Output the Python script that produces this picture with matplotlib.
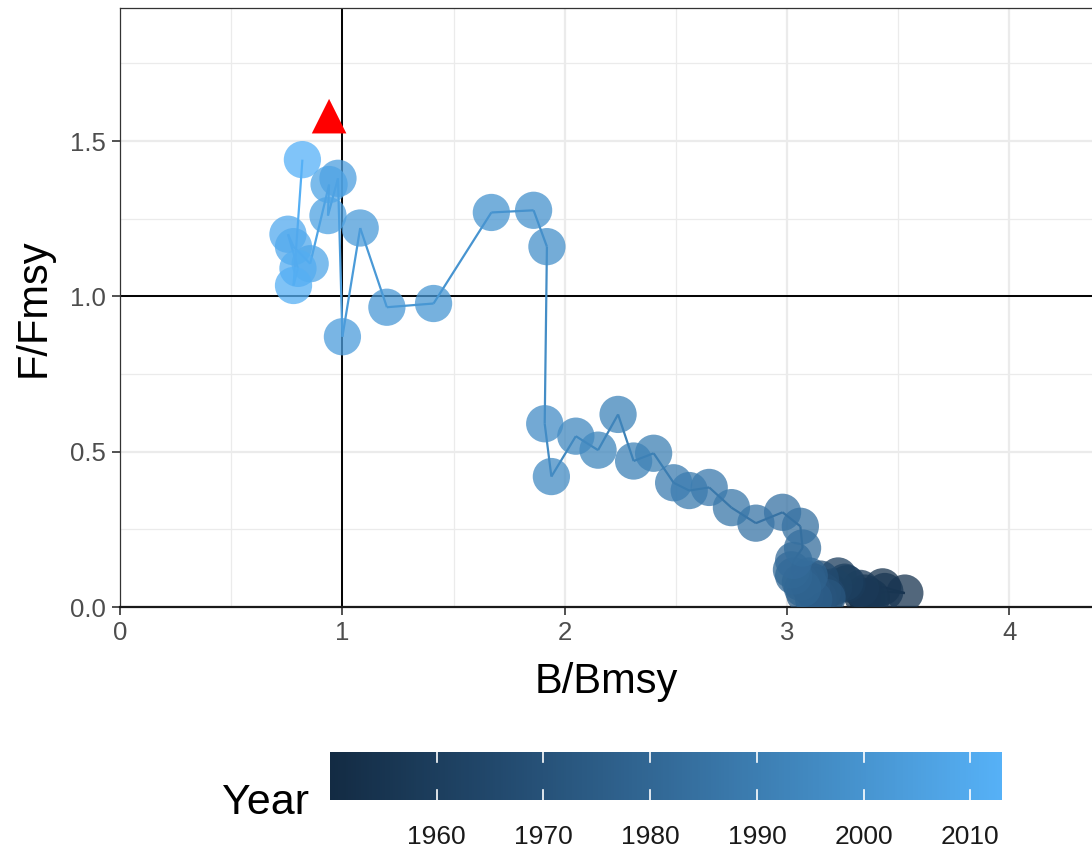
import matplotlib
matplotlib.use("Agg")
import matplotlib.pyplot as plt
import numpy as np
from matplotlib.collections import LineCollection
from matplotlib.colors import LinearSegmentedColormap, Normalize

# stock trajectory, one point per year
YEARS = [1950, 1951, 1952, 1953, 1954, 1955, 1956, 1957, 1958, 1959,
         1960, 1961, 1962, 1963, 1964, 1965, 1966, 1967, 1968, 1969,
         1970, 1971, 1972, 1973, 1974, 1975, 1976, 1977, 1978, 1979,
         1980, 1981, 1982, 1983, 1984, 1985, 1986, 1987, 1988, 1989,
         1990, 1991, 1992, 1993, 1994, 1995, 1996, 1997, 1998, 1999,
         2000, 2001, 2002, 2003, 2004, 2005, 2006, 2007, 2008, 2009,
         2010, 2011, 2012, 2013]
B_BMSY = [3.36, 3.34, 3.38, 3.35, 3.43, 3.53, 3.44, 3.37, 3.33, 3.27,
          3.23, 3.26, 3.21, 3.17, 3.14, 3.18, 3.12, 3.15, 3.16, 3.13,
          3.10, 3.14, 3.18, 3.11, 3.09, 3.08, 3.12, 3.06, 3.10, 3.07,
          3.03, 3.02, 3.03, 3.07, 3.06, 2.98, 2.86, 2.75, 2.65, 2.56,
          2.49, 2.40, 2.31, 2.24, 2.15, 2.05, 1.94, 1.91, 1.92, 1.86,
          1.67, 1.41, 1.20, 1.08, 1.00, 0.98, 0.935, 0.94, 0.855, 0.78,
          0.755, 0.80, 0.78, 0.82]
F_FMSY = [0.03, 0.035, 0.03, 0.045, 0.065, 0.045, 0.05, 0.035, 0.06, 0.075,
          0.10, 0.08, 0.065, 0.05, 0.07, 0.04, 0.08, 0.09, 0.05, 0.04,
          0.07, 0.03, 0.03, 0.06, 0.09, 0.04, 0.025, 0.08, 0.10, 0.06,
          0.10, 0.12, 0.15, 0.19, 0.26, 0.305, 0.27, 0.32, 0.385, 0.375,
          0.40, 0.495, 0.47, 0.62, 0.505, 0.55, 0.42, 0.59, 1.16, 1.277,
          1.27, 0.977, 0.965, 1.22, 0.87, 1.38, 1.26, 1.36, 1.105, 1.16,
          1.20, 1.09, 1.035, 1.44]

# latest status marker
CURRENT_B = [0.94]
CURRENT_F = [1.58]

TICK_YEARS = [1960, 1970, 1980, 1990, 2000, 2010]

GRID = "#EBEBEB"
AXIS_TEXT = "#4D4D4D"

plt.rcParams.update({
    "font.family": ["Liberation Sans", "DejaVu Sans"],
    "figure.facecolor": "white",
    "axes.facecolor": "white",
})

cmap = LinearSegmentedColormap.from_list(
    "gg_blues",
    [(0.0, "#132B43"), (0.25, "#22496D"), (0.5, "#336A98"),
     (0.75, "#448EC7"), (1.0, "#56B1F7")],
)
norm = Normalize(vmin=min(YEARS), vmax=max(YEARS))

fig = plt.figure(figsize=(10.92, 8.55), dpi=100)
ax = fig.add_axes([0.110, 0.290, 0.890, 0.7006])

ax.set_xlim(0, 4.372)
ax.set_ylim(0, 1.928)

# grid in ggplot theme_bw style
for v in [0.5, 1.5, 2.5, 3.5]:
    ax.axvline(v, color=GRID, lw=0.9, zorder=0)
for v in [1, 2, 3, 4]:
    ax.axvline(v, color=GRID, lw=1.6, zorder=0)
for v in [0.25, 0.75, 1.25, 1.75]:
    ax.axhline(v, color=GRID, lw=0.9, zorder=0)
for v in [0.5, 1.0, 1.5]:
    ax.axhline(v, color=GRID, lw=1.6, zorder=0)

# reference lines at MSY
ax.axvline(1, color="black", lw=1.4, zorder=1)
ax.axhline(1, color="black", lw=1.4, zorder=1)

# path coloured by year
pts = np.column_stack([B_BMSY, F_FMSY])
segs = np.stack([pts[:-1], pts[1:]], axis=1)
lc = LineCollection(segs, cmap=cmap, norm=norm, linewidths=1.6, zorder=2)
lc.set_array(np.array(YEARS[:-1], dtype=float))
ax.add_collection(lc)

sc = ax.scatter(B_BMSY, F_FMSY, c=YEARS, cmap=cmap, norm=norm, s=720,
                alpha=0.75, edgecolors="none", zorder=3)

ax.scatter(CURRENT_B, CURRENT_F, marker="^", s=620, color="#FF0000",
           edgecolors="none", zorder=4)

ax.set_xticks([0, 1, 2, 3, 4])
ax.set_xticklabels(["0", "1", "2", "3", "4"])
ax.set_yticks([0.0, 0.5, 1.0, 1.5])
ax.set_yticklabels(["0.0", "0.5", "1.0", "1.5"])
ax.tick_params(axis="both", length=6, width=1.2, color="#333333",
               labelsize=18.5, labelcolor=AXIS_TEXT, pad=4)

for side in ["top", "left"]:
    ax.spines[side].set_color("#333333")
    ax.spines[side].set_linewidth(0.9)
ax.spines["right"].set_visible(False)
ax.spines["bottom"].set_color("#1a1a1a")
ax.spines["bottom"].set_linewidth(1.6)

ax.set_xlabel("B/Bmsy", fontsize=30, labelpad=12)
ax.set_ylabel("F/Fmsy", fontsize=30, labelpad=12)

# colourbar legend at the bottom
cax = fig.add_axes([0.302, 0.0643, 0.616, 0.0562])
cb = fig.colorbar(sc, cax=cax, orientation="horizontal")
cb.solids.set_alpha(1)
cb.outline.set_visible(False)
cb.set_ticks(TICK_YEARS)
cb.ax.tick_params(length=0, labelsize=19, pad=18, labelcolor="#1a1a1a")
for t in TICK_YEARS:
    cax.axvline(t, ymin=0, ymax=0.2, color="white", lw=1.2)
    cax.axvline(t, ymin=0.8, ymax=1, color="white", lw=1.2)

fig.text(0.243, 0.061, "Year", fontsize=31, ha="center", va="center")

fig.savefig("out.png", dpi=100)
